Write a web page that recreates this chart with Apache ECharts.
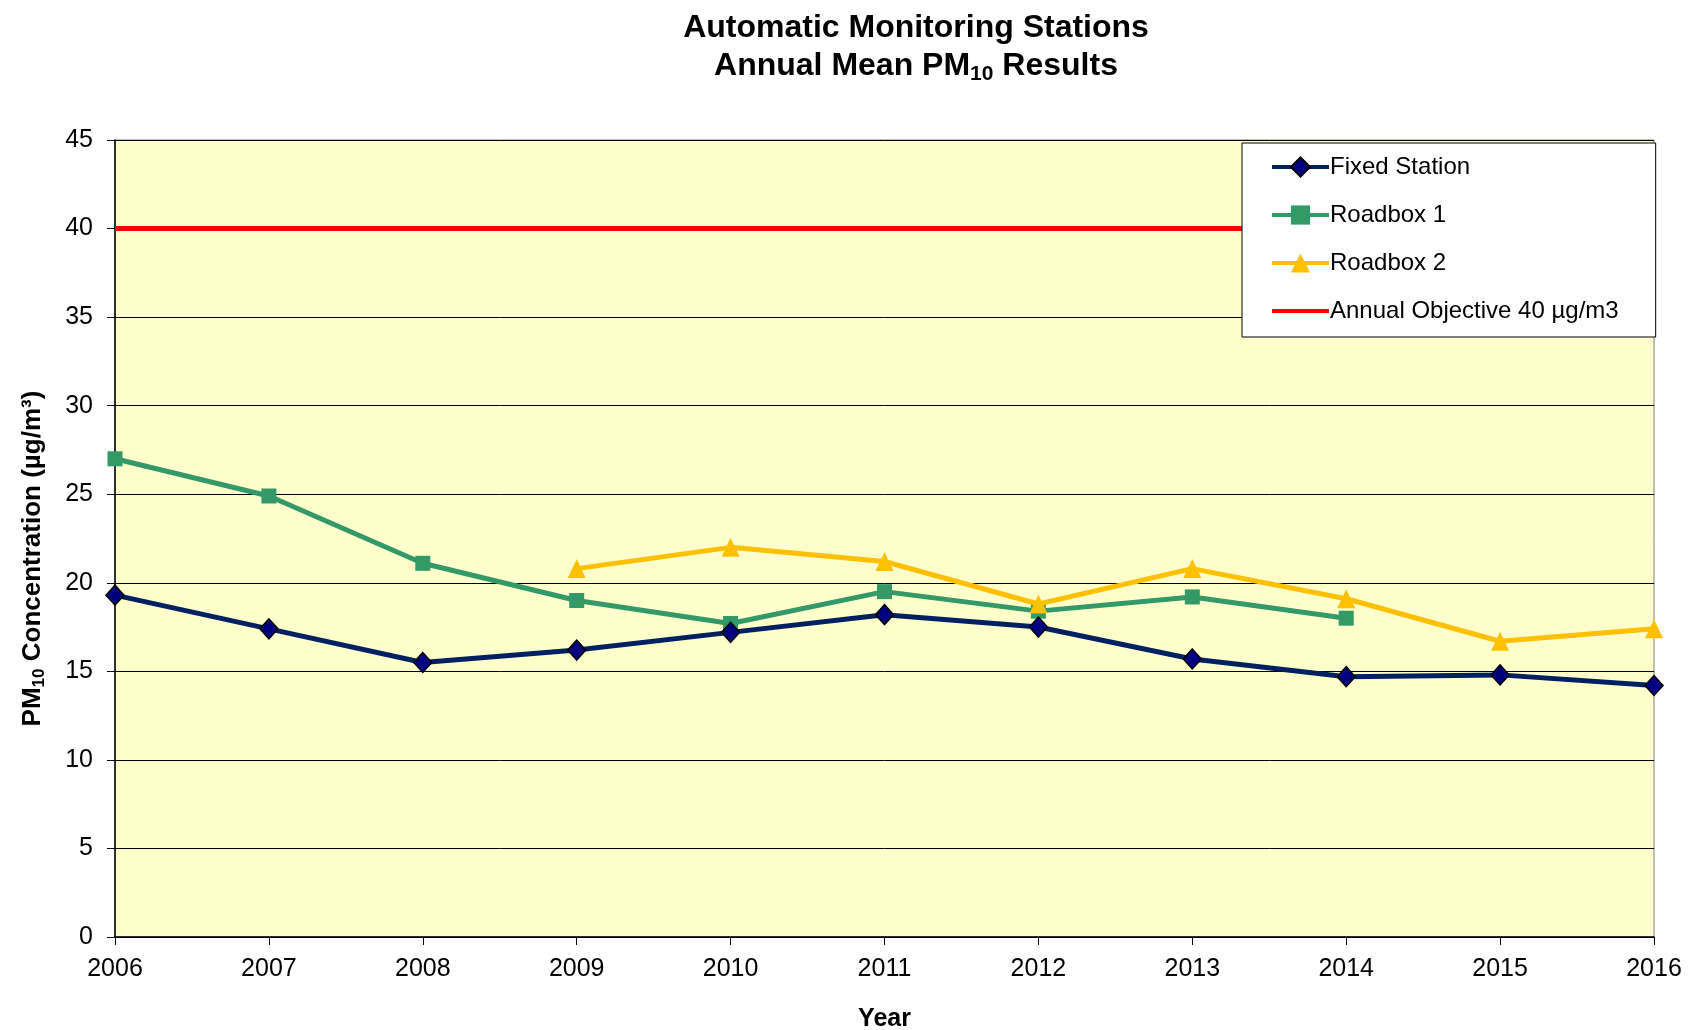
<!DOCTYPE html>
<html><head><meta charset="utf-8">
<script src="https://cdn.jsdelivr.net/npm/echarts@6/dist/echarts.min.js"></script>
<style>html,body{margin:0;padding:0;background:#fff}#c{width:1690px;height:1030px}</style>
</head><body><div id="c"></div>
<script>
const years = ['2006','2007','2008','2009','2010','2011','2012','2013','2014','2015','2016'];
const fixedStation = [19.3,17.4,15.5,16.2,17.2,18.2,17.5,15.7,14.7,14.8,14.2];
const roadbox1 = [27.0,24.9,21.1,19.0,17.7,19.5,18.4,19.2,18.0,null,null];
const roadbox2 = [null,null,null,20.8,22.0,21.2,18.8,20.8,19.1,16.7,17.4];
const objective = [40,40,40,40,40,40,40,40,40,40,40];
const yTicks = {min:0, max:45, interval:5};

const FONT = '"Liberation Sans", Arial, sans-serif';
const chart = echarts.init(document.getElementById('c'), null, {renderer:'canvas'});
chart.setOption({
  backgroundColor:'#fff',
  animation:false,
  title:{
    text:'{b|Automatic Monitoring Stations}\n{b|Annual Mean PM}{s|10}{b| Results}',
    left:916, textAlign:'center', top:9, padding:0,
    textStyle:{fontFamily:FONT,fontSize:32,fontWeight:'bold',color:'#000',lineHeight:38,
      rich:{b:{fontFamily:FONT,fontSize:32,fontWeight:'bold',color:'#000',lineHeight:38},
            s:{fontFamily:FONT,fontSize:21,fontWeight:'bold',color:'#000',padding:[16,0,0,0],lineHeight:38}}}
  },
  grid:{left:115,right:36,top:140,bottom:93,containLabel:false,outerBoundsMode:'none',
        show:true,backgroundColor:'#FFFFCC',borderColor:'#808080',borderWidth:1},
  legend:{
    orient:'vertical', left:1242, top:143,
    backgroundColor:'#fff', borderColor:'#000', borderWidth:1,
    padding:[12,37,14,28], itemGap:24, itemWidth:57, itemHeight:24,
    textStyle:{fontFamily:FONT,fontSize:24,color:'#000',padding:[0,0,0,-4]},
    lineStyle:{width:4},
    data:['Fixed Station','Roadbox 1','Roadbox 2',
      {name:'Annual Objective 40 µg/m3', itemStyle:{color:'rgba(0,0,0,0)',borderWidth:0,opacity:0}}]
  },
  xAxis:{
    type:'category', data:years, boundaryGap:false,
    name:'Year', nameLocation:'middle', nameGap:70,
    nameTextStyle:{fontFamily:FONT,fontSize:25,fontWeight:'bold',color:'#000'},
    axisLine:{lineStyle:{color:'#000',width:1.5}},
    axisTick:{show:true,length:8,lineStyle:{color:'#000'}},
    axisLabel:{fontFamily:FONT,fontSize:25,color:'#000',margin:20},
    splitLine:{show:false}
  },
  yAxis:{
    type:'value', min:yTicks.min, max:yTicks.max, interval:yTicks.interval,
    name:'{b|PM}{s|10}{b| Concentration (µg/m³)}', nameLocation:'middle', nameGap:67, nameRotate:90,
    nameTextStyle:{fontFamily:FONT,fontSize:26,fontWeight:'bold',color:'#000',padding:[0,40,0,0],
      rich:{b:{fontFamily:FONT,fontSize:26,fontWeight:'bold',color:'#000'},
            s:{fontFamily:FONT,fontSize:17,fontWeight:'bold',color:'#000',padding:[14,0,0,0]}}},
    axisLine:{show:true,lineStyle:{color:'#000',width:1.5}},
    axisTick:{show:true,length:8,lineStyle:{color:'#000'}},
    axisLabel:{fontFamily:FONT,fontSize:25,color:'#000',margin:22},
    splitLine:{show:true,lineStyle:{color:'#000',width:1}}
  },
  series:[
    {name:'Annual Objective 40 µg/m3', type:'line', data:objective, symbol:'none',
     lineStyle:{color:'#FF0000',width:5}, itemStyle:{color:'#FF0000'}, z:1},
    {name:'Roadbox 1', type:'line', data:roadbox1, symbol:'rect', symbolSize:15,
     lineStyle:{color:'#339966',width:5}, itemStyle:{color:'#339966'}, z:3},
    {name:'Roadbox 2', type:'line', data:roadbox2, symbol:'triangle', symbolSize:[18,19],
     lineStyle:{color:'#FFC000',width:5}, itemStyle:{color:'#FFC000'}, z:4},
    {name:'Fixed Station', type:'line', data:fixedStation, symbol:'diamond', symbolSize:[18,20],
     lineStyle:{color:'#002060',width:5}, itemStyle:{color:'#000080',borderColor:'#000',borderWidth:1.5}, z:5}
  ]
});
</script></body></html>
